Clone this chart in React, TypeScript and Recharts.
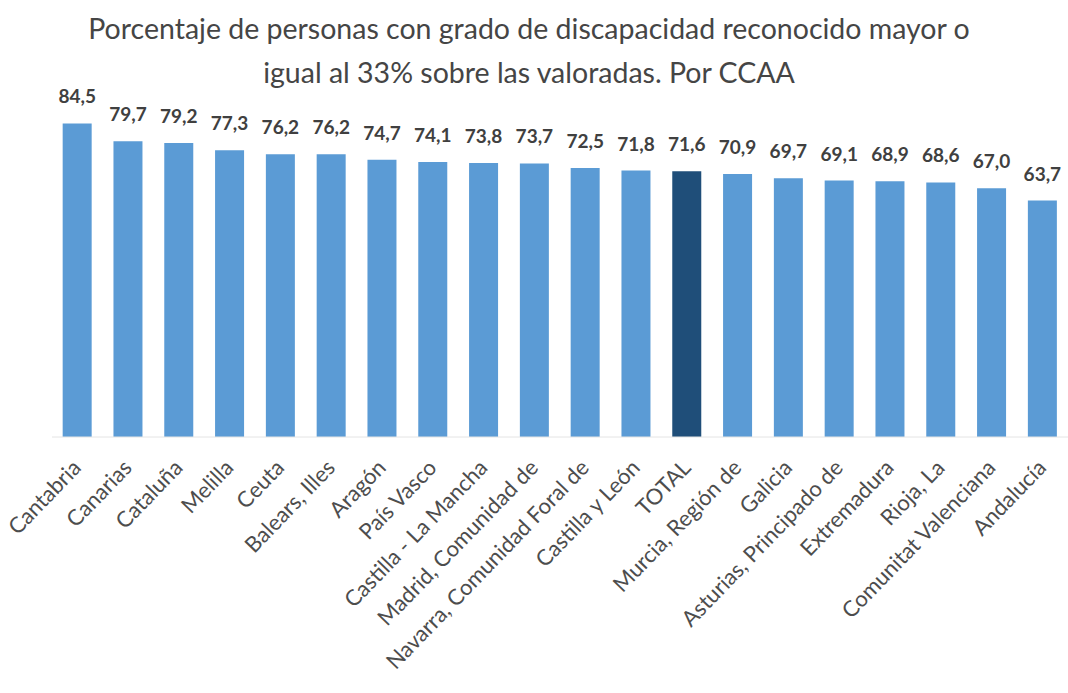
import { BarChart, Bar, XAxis, YAxis, Cell, LabelList } from 'recharts'

const regions = [
  'Cantabria',
  'Canarias',
  'Cataluña',
  'Melilla',
  'Ceuta',
  'Balears, Illes',
  'Aragón',
  'País Vasco',
  'Castilla - La Mancha',
  'Madrid, Comunidad de',
  'Navarra, Comunidad Foral de',
  'Castilla y León',
  'TOTAL',
  'Murcia, Región de',
  'Galicia',
  'Asturias, Principado de',
  'Extremadura',
  'Rioja, La',
  'Comunitat Valenciana',
  'Andalucía',
]

const percentages = [
  84.5, 79.7, 79.2, 77.3, 76.2, 76.2, 74.7, 74.1, 73.8, 73.7,
  72.5, 71.8, 71.6, 70.9, 69.7, 69.1, 68.9, 68.6, 67.0, 63.7,
]

const titleLines = [
  'Porcentaje de personas con grado de discapacidad reconocido mayor o',
  'igual al 33% sobre las valoradas. Por CCAA',
]

const data = regions.map((name, i) => ({ name, value: percentages[i] }))

const FONT = 'Lato, "Open Sans", sans-serif'

const RotatedTick = (props: any) => {
  const { x, y, payload } = props
  return (
    <g transform={`translate(${x + 5},${y + 24})`}>
      <text
        textAnchor="end"
        transform="rotate(-46)"
        fontFamily={FONT}
        fontSize={22}
        fill="#4d4d4d"
      >
        {payload.value}
      </text>
    </g>
  )
}

export default function App() {
  return (
    <div style={{ position: 'absolute', left: 0, top: 0, width: 1068, height: 693, background: '#fff' }}>
      <div
        style={{
          position: 'absolute',
          left: 0,
          top: 6,
          width: 1058,
          textAlign: 'center',
          fontFamily: FONT,
          fontSize: 28.5,
          lineHeight: '44px',
          color: '#454545',
        }}
      >
        {titleLines.map((l) => (
          <div key={l}>{l}</div>
        ))}
      </div>
      <div style={{ position: 'absolute', left: 0, top: 0 }}>
        <BarChart
          width={1068}
          height={693}
          data={data}
          margin={{ top: 103, right: 0, bottom: 0, left: 52 }}
          barCategoryGap="21%"
        >
          <XAxis
            dataKey="name"
            interval={0}
            height={256}
            tick={<RotatedTick />}
            tickLine={false}
            axisLine={{ stroke: '#e4e4e4' }}
          />
          <YAxis hide domain={[0, 90]} />
          <Bar dataKey="value" isAnimationActive={false}>
            {data.map((d) => (
              <Cell key={d.name} fill={d.name === 'TOTAL' ? '#1f4e79' : '#5b9bd5'} />
            ))}
            <LabelList
              dataKey="value"
              position="top"
              offset={20}
              formatter={(v: any) => Number(v).toFixed(1).replace('.', ',')}
              style={{ fontFamily: FONT, fontSize: 19, fontWeight: 700, fill: '#404040' }}
            />
          </Bar>
        </BarChart>
      </div>
    </div>
  )
}
